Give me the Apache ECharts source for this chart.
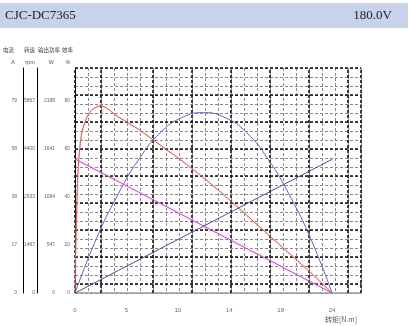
<!DOCTYPE html>
<html><head><meta charset="utf-8">
<script src="https://cdn.jsdelivr.net/npm/echarts@6/dist/echarts.min.js"></script>
<style>html,body{margin:0;padding:0;background:#fff}#c{width:412px;height:326px}</style>
</head><body><div id="c"></div>
<script>
// ---- data ----
const title = 'CJC-DC7365';
const voltage = '180.0V';
const torqueTicks = ['0','5','10','14','19','24'];
const currentTicks = ['0','17','38','58','79'];
const speedTicks = ['0','1467','2933','4400','5867'];
const powerTicks = ['0','547','1094','1641','2188'];
const effTicks = ['0','20','40','60','80'];
// torque [N.m]
const torqueLine = [0, 24];
const currentVals = [0, 55];      // A
const speedVals = [4095, 0];      // rpm
const powerTorque = [0, 2, 4, 6, 8, 10, 12, 14, 16, 18, 20, 22, 24];
const powerVals =   [0, 620, 1120, 1530, 1830, 2000, 2055, 2000, 1830, 1530, 1120, 620, 0];
const effTorque = [0, 0.1, 0.3, 0.6, 1, 1.5, 2.4, 4, 6, 8, 10, 12, 14, 16, 18, 20, 22, 24];
const effVals =   [0, 25, 52, 66, 72, 76, 78, 73.5, 68, 61.5, 55, 48, 40.5, 32.5, 24.5, 16.5, 8.5, 0];
// grid helpers
const thickV = [0, 2, 6, 9, 12, 15, 18, 21, 22];
const thickH = [1, 4, 7, 10, 13, 16, 19, 22, 25];

const pairs = (xs, ys) => xs.map((x, i) => [x, ys[i]]);
const chart = echarts.init(document.getElementById('c'));
const lblFont = 'Liberation Sans, DejaVu Sans, sans-serif';
function yAx(ticks, offset, margin, showLine) {
  const top = Number(ticks[ticks.length - 1]);
  const iv = top / 4;
  return {
    type: 'value', position: 'left', offset: offset, min: 0, max: iv * 225 / 48, interval: iv,
    axisLine: { show: showLine, lineStyle: { color: '#000', width: 1 } },
    axisTick: { show: false }, splitLine: { show: false },
    axisLabel: { fontSize: 5, color: '#666', margin: margin, fontFamily: lblFont, showMaxLabel: false,
      formatter: (v, i) => (ticks[i] !== undefined ? ticks[i] : '') }
  };
}
const option = {
  animation: false,
  grid: { left: 75, top: 68, width: 286, height: 225, containLabel: false },
  xAxis: [
    { type: 'value', min: 0, max: 26.7, interval: 4.8,
      axisLine: { show: true, lineStyle: { color: '#999', width: 1.5 } },
      axisTick: { show: false }, splitLine: { show: false },
      axisLabel: { fontSize: 6, color: '#666', margin: 14, fontFamily: lblFont, showMaxLabel: false,
        formatter: (v, i) => (torqueTicks[i] !== undefined ? torqueTicks[i] : '') } },
    { type: 'value', min: 0, max: 22, interval: 1, position: 'bottom',
      axisLine: { show: false }, axisTick: { show: false }, axisLabel: { show: false },
      splitLine: { show: true, lineStyle: { color: '#8a8a8a', width: 1, type: [3, 2] } } }
  ],
  yAxis: [
    yAx(effTicks, 0, 5, false),
    yAx(powerTicks, 13, 7, true),
    yAx(speedTicks, 38, 2, true),
    yAx(currentTicks, 52, 6, true),
    { type: 'value', min: 0, max: 25, interval: 1, show: true,
      axisLine: { show: false }, axisTick: { show: false }, axisLabel: { show: false },
      splitLine: { show: true, lineStyle: { color: '#8a8a8a', width: 1, type: [3, 2] } } }
  ],
  series: [
    { type: 'line', xAxisIndex: 1, yAxisIndex: 4, data: [[0, 0]], showSymbol: false, symbol: 'none',
      lineStyle: { opacity: 0 }, silent: true, z: 1,
      markLine: { silent: true, symbol: 'none', animation: false, label: { show: false },
        lineStyle: { color: '#111', width: 1.6, type: [3, 2] },
        data: thickV.map(v => ({ xAxis: v })).concat(thickH.map(v => ({ yAxis: v }))) } },
    { name: 'eff', type: 'line', xAxisIndex: 0, yAxisIndex: 0, data: pairs(effTorque, effVals),
      smooth: 0.3, showSymbol: false, symbol: 'none', z: 5,
      lineStyle: { color: '#c8625c', width: 1, shadowColor: 'rgba(240,150,150,0.8)', shadowBlur: 2 } },
    { name: 'power', type: 'line', xAxisIndex: 0, yAxisIndex: 1, data: pairs(powerTorque, powerVals),
      smooth: true, showSymbol: false, symbol: 'none', z: 5,
      lineStyle: { color: '#6464b0', width: 1 } },
    { name: 'speed', type: 'line', xAxisIndex: 0, yAxisIndex: 2, data: pairs(torqueLine, speedVals),
      showSymbol: false, symbol: 'none', z: 5,
      lineStyle: { color: '#c050c0', width: 1, shadowColor: 'rgba(240,160,240,0.9)', shadowBlur: 3 } },
    { name: 'current', type: 'line', xAxisIndex: 0, yAxisIndex: 3, data: pairs(torqueLine, currentVals),
      showSymbol: false, symbol: 'none', z: 5,
      lineStyle: { color: '#505088', width: 1 } }
  ],
  graphic: [
    { type: 'rect', shape: { x: 0, y: 3, width: 408, height: 25 }, style: { fill: '#c8d3eb' }, z: -1 },
    { type: 'text', x: 5, y: 16, style: { text: title, fontSize: 13, fontFamily: 'Liberation Serif, serif', fill: '#222', verticalAlign: 'middle' } },
    { type: 'text', x: 392, y: 16, style: { text: voltage, fontSize: 13, fontFamily: 'Liberation Serif, serif', fill: '#222', align: 'right', verticalAlign: 'middle' } },
    { type: 'text', x: 3, y: 47, style: { text: '电流', fontSize: 5.5, fontFamily: 'Noto Sans CJK SC', fill: '#444' } },
    { type: 'text', x: 24, y: 47, style: { text: '转速', fontSize: 5.5, fontFamily: 'Noto Sans CJK SC', fill: '#444' } },
    { type: 'text', x: 38, y: 47, style: { text: '输出功率', fontSize: 5.5, fontFamily: 'Noto Sans CJK SC', fill: '#444' } },
    { type: 'text', x: 62, y: 47, style: { text: '效率', fontSize: 5.5, fontFamily: 'Noto Sans CJK SC', fill: '#444' } },
    { type: 'text', x: 13, y: 62, style: { text: 'A', fontSize: 5.5, fontFamily: lblFont, fill: '#555', align: 'center', verticalAlign: 'middle' } },
    { type: 'text', x: 30, y: 62, style: { text: 'rpm', fontSize: 5.5, fontFamily: lblFont, fill: '#555', align: 'center', verticalAlign: 'middle' } },
    { type: 'text', x: 51, y: 62, style: { text: 'W', fontSize: 5.5, fontFamily: lblFont, fill: '#555', align: 'center', verticalAlign: 'middle' } },
    { type: 'text', x: 68, y: 62, style: { text: '%', fontSize: 5.5, fontFamily: lblFont, fill: '#555', align: 'center', verticalAlign: 'middle' } },
    { type: 'text', x: 325, y: 316, style: { text: '转矩[N.m]', fontSize: 7, fontFamily: 'Noto Sans CJK SC', fill: '#555' } }
  ]
};
chart.setOption(option);
</script></body></html>
